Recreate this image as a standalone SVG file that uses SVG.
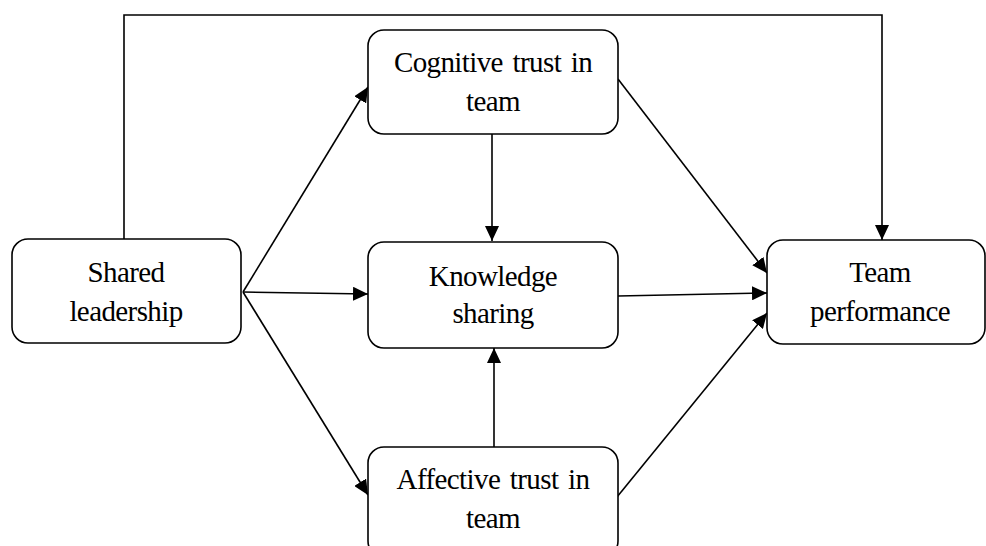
<svg xmlns="http://www.w3.org/2000/svg" width="986" height="546" viewBox="0 0 986 546">
<style>
.box{fill:#fff;stroke:#000;stroke-width:1.6}
.lbl{font-family:"Liberation Serif","Times New Roman",serif;font-size:29px;letter-spacing:-0.6px;fill:#000;text-anchor:middle}
.edge{fill:none;stroke:#000;stroke-width:1.6}
</style>
<defs>
<marker id="ah" markerUnits="userSpaceOnUse" markerWidth="16" markerHeight="14" refX="15" refY="7" orient="auto">
<path d="M0,0 L15,7 L0,14 z" fill="#000"/>
</marker>
</defs>
<rect width="986" height="546" fill="#fff"/>
<g id="connectors">
<path class="edge" d="M124,239 V15 H882 V240" marker-end="url(#ah)"/>
<line class="edge" x1="243" y1="292" x2="368" y2="87" marker-end="url(#ah)"/>
<line class="edge" x1="243" y1="292" x2="368" y2="294" marker-end="url(#ah)"/>
<line class="edge" x1="243" y1="292" x2="368" y2="495" marker-end="url(#ah)"/>
<line class="edge" x1="492" y1="134" x2="492" y2="241" marker-end="url(#ah)"/>
<line class="edge" x1="494" y1="447" x2="494" y2="348" marker-end="url(#ah)"/>
<line class="edge" x1="618" y1="79" x2="767" y2="273" marker-end="url(#ah)"/>
<line class="edge" x1="618" y1="296" x2="767" y2="293" marker-end="url(#ah)"/>
<line class="edge" x1="617" y1="497" x2="767" y2="313" marker-end="url(#ah)"/>
</g>
<g id="shared-leadership">
<rect class="box" x="12" y="239" width="229" height="104" rx="16"/>
<text class="lbl" x="126" y="282">Shared</text>
<text class="lbl" x="126" y="321">leadership</text>
</g>
<g id="cognitive-trust">
<rect class="box" x="368" y="30" width="250" height="104" rx="16"/>
<text class="lbl" x="493" y="72" word-spacing="3">Cognitive trust in</text>
<text class="lbl" x="493" y="111">team</text>
</g>
<g id="knowledge-sharing">
<rect class="box" x="368" y="242" width="250" height="106" rx="16"/>
<text class="lbl" x="493" y="286">Knowledge</text>
<text class="lbl" x="493" y="323">sharing</text>
</g>
<g id="affective-trust">
<rect class="box" x="368" y="447" width="250" height="110" rx="16"/>
<text class="lbl" x="493" y="489" word-spacing="3">Affective trust in</text>
<text class="lbl" x="493" y="528">team</text>
</g>
<g id="team-performance">
<rect class="box" x="767" y="240" width="218" height="104" rx="16"/>
<text class="lbl" x="880" y="282">Team</text>
<text class="lbl" x="880" y="321">performance</text>
</g>
</svg>
